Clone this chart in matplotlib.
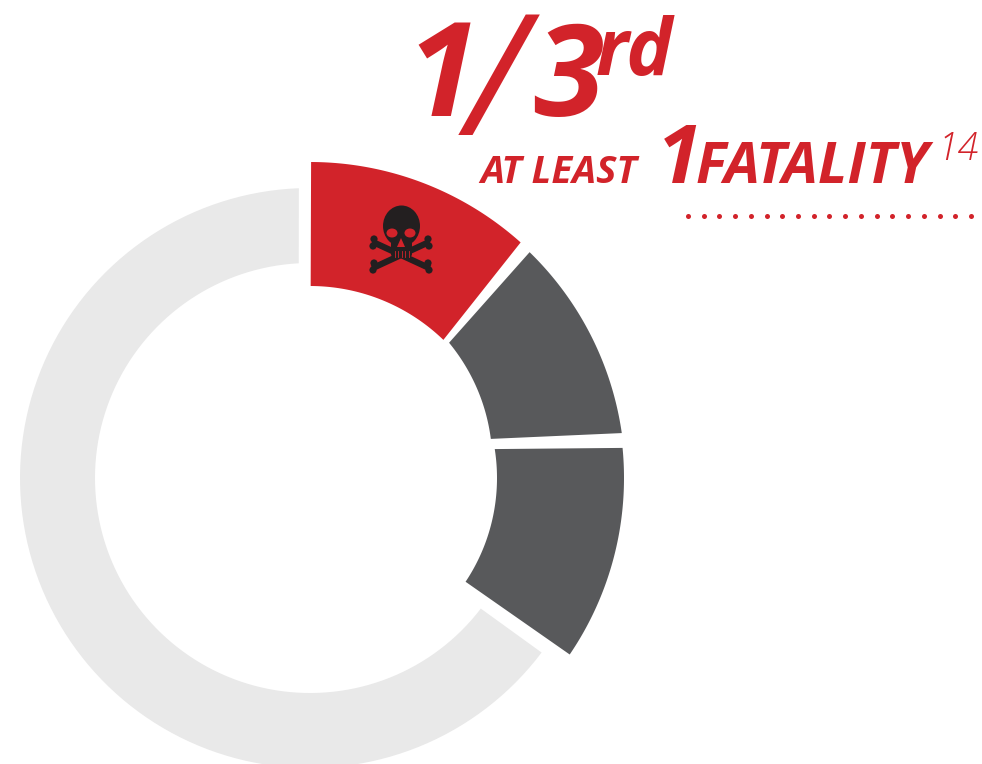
import numpy as np
import matplotlib
matplotlib.use('Agg')
import matplotlib.pyplot as plt
from matplotlib.patches import Polygon, Circle, Ellipse, FancyBboxPatch

W, H = 982, 764

# ring segments, angles clockwise from 12 o'clock
seg_outer_start = [0.2, 44.2, 84.5, 127.0]
seg_outer_end = [41.8, 81.8, 124.2, 357.8]
seg_inner_start = [0.2, 45.8, 81.1, 127.4]
seg_inner_end = [44.0, 77.8, 123.7, 357.0]
seg_colors = ["#d2232a", "#58595b", "#58595b", "#e9e9e9"]
seg_r_outer = [316, 315, 314, 290]
seg_r_inner_start = [192, 194, 187, 215]
seg_r_inner_end = [192, 185, 187, 215]

red = '#d2232a'
dark = '#231f20'

plt.rcParams['font.family'] = ['Open Sans', 'DejaVu Sans']

fig = plt.figure(figsize=(W/100, H/100), dpi=100)
ax = fig.add_axes([0, 0, 1, 1])
ax.set_xlim(0, W)
ax.set_ylim(H, 0)
ax.axis('off')

cx, cy = 310, 478


def sector(a0, a1, b0, b1, r_out, ri0, ri1, col):
    ta = np.deg2rad(np.linspace(a0, a1, 120))
    tb = np.deg2rad(np.linspace(b1, b0, 120))
    ri = np.linspace(ri1, ri0, 120)
    xs = np.r_[cx + r_out * np.sin(ta), cx + ri * np.sin(tb)]
    ys = np.r_[cy - r_out * np.cos(ta), cy - ri * np.cos(tb)]
    ax.add_patch(Polygon(np.c_[xs, ys], closed=True, fc=col, ec='none'))


for i in range(len(seg_colors)):
    sector(seg_outer_start[i], seg_outer_end[i], seg_inner_start[i], seg_inner_end[i],
           seg_r_outer[i], seg_r_inner_start[i], seg_r_inner_end[i], seg_colors[i])

# skull and crossbones
bone_ends = [(375, 243), (427, 243), (375, 267), (427, 267)]
for (x0, y0), (x1, y1) in ((bone_ends[0], bone_ends[3]), (bone_ends[1], bone_ends[2])):
    ax.plot([x0, x1], [y0, y1], color=dark, lw=4.5, zorder=3)
for x, y in bone_ends:
    sx = -1 if x < 400 else 1
    ax.add_patch(Circle((x + sx * 1, y - 4), 3.6, fc=dark, ec='none', zorder=3))
    ax.add_patch(Circle((x + sx * 2, y + 3), 3.6, fc=dark, ec='none', zorder=3))
ax.add_patch(Ellipse((401.5, 226), 37, 41, fc=dark, ec='none', zorder=4))
ax.add_patch(FancyBboxPatch((391, 240), 21, 17, boxstyle='round,pad=0,rounding_size=3',
                            fc=dark, ec='none', zorder=4))
for x in (392, 410):
    ax.add_patch(Ellipse((x, 233), 11, 9, fc=red, ec='none', zorder=5))
ax.add_patch(Polygon([(401, 238), (397, 247), (405, 247)], closed=True, fc=red, ec='none', zorder=5))
for x in (395, 398.5, 402, 405.5, 409):
    ax.plot([x, x], [251, 257], color=red, lw=0.6, zorder=5)

bold = dict(color=red, style='italic', weight='bold', va='baseline')
ax.text(406, 116, "1", fontsize=94, **bold)
ax.text(466, 135, "/", fontsize=122, color=red, style='italic', weight='normal', va='baseline')
ax.text(533, 116, "3", fontsize=92, **bold)
ax.text(596, 75, "rd", fontsize=56, **bold)
ax.text(480, 183, "AT LEAST", fontsize=27.5, **bold)
ax.text(657, 183, "1", fontsize=58, **bold)
ax.text(696, 183, "FATALITY", fontsize=41, **bold)
ax.text(938, 160, "14", fontsize=27, color=red, style='italic', weight='light', va='baseline')

dots_x = np.linspace(688, 971, 19)
ax.scatter(dots_x, [216] * len(dots_x), s=13, color=red, zorder=3, linewidths=0)

fig.savefig('out.png', dpi=100)
